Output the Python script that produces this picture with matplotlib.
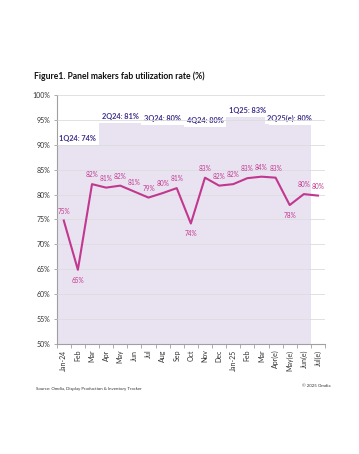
import matplotlib
matplotlib.use("Agg")
import matplotlib.pyplot as plt
import numpy as np

months = ["Jan-24", "Feb", "Mar", "Apr", "May", "Jun", "Jul", "Aug", "Sep", "Oct",
          "Nov", "Dec", "Jan-25", "Feb", "Mar", "Apr(e)", "May(e)", "Jun(e)", "Jul(e)"]
util = [74.8, 64.9, 82.1, 81.4, 81.8, 80.6, 79.4, 80.3, 81.3, 74.2,
        83.4, 81.8, 82.1, 83.3, 83.6, 83.4, 77.9, 80.1, 79.8]
util_labels = ["75%", "65%", "82%", "81%", "82%", "81%", "79%", "80%", "81%", "74%",
               "83%", "82%", "82%", "83%", "84%", "83%", "78%", "80%", "80%"]
quarters = ["1Q24", "2Q24", "3Q24", "4Q24", "1Q25", "2Q25(e)"]
quarter_vals = [74.0, 81.2, 80.6, 79.8, 83.0, 80.4]
quarter_labels = ["74%", "81%", "80%", "80%", "83%", "80%"]

FONT = ["Lato", "DejaVu Sans"]
plt.rcParams["font.family"] = FONT

W, H = 359, 454
fig = plt.figure(figsize=(W / 100, H / 100), dpi=100)
ax_left, ax_right = 56.7 / W, 325 / W
ax_bot, ax_top = 1 - 344 / H, 1 - 95 / H
ax = fig.add_axes([ax_left, ax_bot, ax_right - ax_left, ax_top - ax_bot])

x = np.arange(len(months))
# Quarterly bars on hidden secondary scale
ax2 = ax.twinx()
qx = np.arange(len(quarters)) * 3 + 1
ax2.bar(qx, quarter_vals, width=3, color="#E9E3F1", edgecolor="none", zorder=0)
ax2.set_ylim(8.5, 90.3)
ax2.axis("off")
ax.set_zorder(ax2.get_zorder() + 1)
ax.patch.set_visible(False)

for q, v, lbl, xc in zip(quarters, quarter_vals, quarter_labels, qx):
    ax2.text(xc, v + 0.9, f"{q}: {lbl}", ha="center", va="bottom", fontsize=5.3,
             color="#3C2E8A", fontweight="bold",
             bbox=dict(facecolor="white", edgecolor="none", pad=1.5))

ax.set_xlim(-0.5, 18.5)
ax.set_ylim(50, 100)
ax.set_yticks(np.arange(50, 101, 5))
ax.set_yticklabels([f"{v}%" for v in range(50, 101, 5)], fontsize=5, color="#333333")
ax.grid(axis="y", color="#DCDCDC", linewidth=0.6, zorder=1)
ax.set_axisbelow(False)

ax.plot(x, util, color="#C2378F", linewidth=1.5, zorder=3)
below = {1, 9, 16}
for i, (v, lbl) in enumerate(zip(util, util_labels)):
    if i in below:
        ax.text(i, v - 1.4, lbl, ha="center", va="top", fontsize=4.7, color="#C2378F")
    else:
        ax.text(i, v + 1.2, lbl, ha="center", va="bottom", fontsize=4.7, color="#C2378F")

ax.set_xticks(x)
ax.set_xticklabels(months, rotation=90, fontsize=5, color="#333333")
ax.set_xticks(np.arange(-0.5, 18.6, 1), minor=True)
ax.tick_params(axis="x", which="major", length=0, pad=4)
ax.tick_params(axis="x", which="minor", length=3, color="#A0A0A0", width=0.6)
ax.tick_params(axis="y", length=2.5, color="#A0A0A0", width=0.6, pad=2)

for s in ["top", "right"]:
    ax.spines[s].set_visible(False)
ax.spines["left"].set_color("#A0A0A0")
ax.spines["bottom"].set_color("#A0A0A0")
ax.spines["left"].set_linewidth(0.8)
ax.spines["bottom"].set_linewidth(0.8)

fig.text(34 / W, 1 - 76.5 / H, "Figure1. Panel makers fab utilization rate (%)",
         fontsize=6.2, fontweight="bold", ha="left", va="center", color="#111111")
fig.text(36 / W, 1 - 389 / H, "Source: Omdia, Display Production & Inventory Tracker",
         fontsize=3.2, ha="left", va="center", color="#333333")
fig.text(330 / W, 1 - 386 / H, "© 2025 Omdia",
         fontsize=3.2, ha="right", va="center", color="#333333")

fig.savefig("out.png", dpi=100)
